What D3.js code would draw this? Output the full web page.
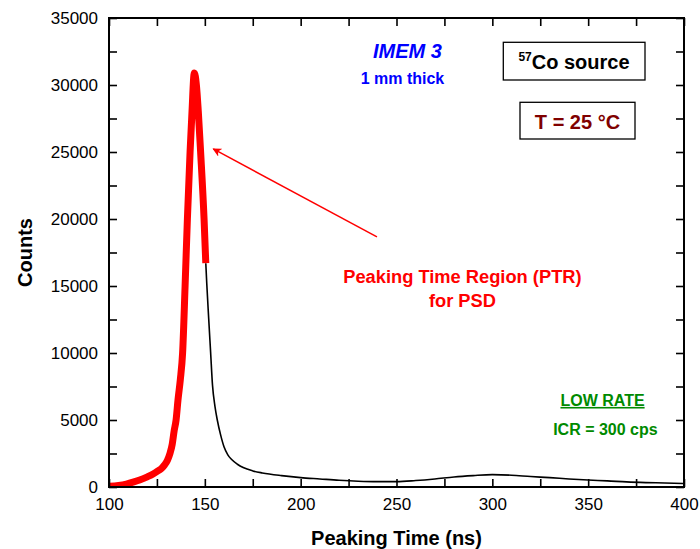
<!DOCTYPE html>
<html lang="en">
<head>
<meta charset="UTF-8">
<script src="https://d3js.org/d3.v7.min.js"></script>
<style>
  body { margin: 0; background: #fff; }
  text { font-family: Arial, "Liberation Sans", sans-serif; }
</style>
</head>
<body>
<div id="chart"></div>
<script>
// peaking time region (red, thick)
const ptrTime   = [100, 105, 109, 113, 116, 120, 123, 125.5, 127.5, 129, 130.5, 131.8, 133, 134, 135, 136, 137.2, 138.4, 139.7, 140.9, 142.3, 143.3, 144.5, 145.6, 146.6, 147.8, 149.6, 150.5];
const ptrCounts = [60, 120, 220, 380, 520, 760, 970, 1200, 1400, 1650, 2000, 2500, 3200, 4200, 5000, 6500, 8000, 10000, 15000, 20000, 25000, 28000, 30900, 30000, 28000, 25000, 20000, 16700];

// rest of the spectrum (black)
const tailTime   = [150.5, 151, 152, 153, 154, 155.3, 156.5, 158.3, 160, 162, 164, 167, 170, 175, 180, 190, 200, 210, 220, 230, 240, 250, 260, 270, 280, 290, 300, 310, 320, 330, 340, 350, 360, 370, 380, 390, 400];
const tailCounts = [16700, 15200, 12600, 10100, 7600, 6000, 5000, 3850, 3000, 2400, 2050, 1700, 1450, 1200, 1050, 850, 700, 600, 500, 430, 400, 400, 480, 600, 750, 850, 920, 880, 780, 700, 600, 520, 460, 380, 330, 300, 260];

const xTicks = d3.range(100, 401, 25);
const yTicks = d3.range(0, 35001, 2500);
const xLabels = [100, 150, 200, 250, 300, 350, 400];
const yLabels = [0, 5000, 10000, 15000, 20000, 25000, 30000, 35000];

const W = 700, H = 549;
const margin = {left: 109, top: 18, right: 16, bottom: 62};
const w = W - margin.left - margin.right;
const h = H - margin.top - margin.bottom;

const svg = d3.select("#chart").append("svg").attr("width", W).attr("height", H);
const g = svg.append("g").attr("transform", `translate(${margin.left},${margin.top})`);

const x = d3.scaleLinear().domain([100, 400]).range([0, w]);
const y = d3.scaleLinear().domain([0, 35000]).range([h, 0]);

g.append("clipPath").attr("id", "clip").append("rect")
  .attr("x", 0).attr("y", -5).attr("width", w).attr("height", h + 5);

const line = d3.line().x(d => x(d[0])).y(d => y(d[1])).curve(d3.curveMonotoneX);

g.append("path")
  .datum(tailTime.map((t, i) => [t, tailCounts[i]]))
  .attr("clip-path", "url(#clip)")
  .attr("fill", "none").attr("stroke", "#000").attr("stroke-width", 1.6)
  .attr("d", line);

g.append("path")
  .datum(ptrTime.map((t, i) => [t, ptrCounts[i]]))
  .attr("clip-path", "url(#clip)")
  .attr("fill", "none").attr("stroke", "#ff0000").attr("stroke-width", 7)
  .attr("stroke-linejoin", "round").attr("stroke-linecap", "butt")
  .attr("d", line);

// axes, ticks inside on all four sides
const tk = 8;
const fmt = d => "";
function styleAxis(sel) {
  sel.select(".domain").remove();
  sel.selectAll(".tick line").attr("stroke", "#000").attr("stroke-width", 1.6);
  sel.selectAll(".tick text").attr("font-size", 17).attr("fill", "#000");
}
g.append("g").attr("transform", `translate(0,${h})`)
  .call(d3.axisBottom(x).tickValues(xTicks).tickSizeInner(-tk).tickSizeOuter(0).tickPadding(11)
    .tickFormat(d => xLabels.includes(d) ? d : ""))
  .call(styleAxis);
g.append("g")
  .call(d3.axisTop(x).tickValues(xTicks).tickSizeInner(-tk).tickSizeOuter(0).tickFormat(fmt))
  .call(styleAxis);
g.append("g")
  .call(d3.axisLeft(y).tickValues(yTicks).tickSizeInner(-tk).tickSizeOuter(0).tickPadding(11)
    .tickFormat(d => yLabels.includes(d) ? d : ""))
  .call(styleAxis);
g.append("g").attr("transform", `translate(${w},0)`)
  .call(d3.axisRight(y).tickValues(yTicks).tickSizeInner(-tk).tickSizeOuter(0).tickFormat(fmt))
  .call(styleAxis);

g.append("rect").attr("width", w).attr("height", h)
  .attr("fill", "none").attr("stroke", "#000").attr("stroke-width", 2);

// axis titles
svg.append("text").attr("x", margin.left + w / 2).attr("y", 545)
  .attr("text-anchor", "middle").attr("font-size", 20).attr("font-weight", "bold")
  .text("Peaking Time (ns)");
svg.append("text").attr("transform", `translate(32,${margin.top + h / 2}) rotate(-90)`)
  .attr("text-anchor", "middle").attr("font-size", 20).attr("font-weight", "bold")
  .text("Counts");

// annotations
g.append("text").attr("x", x(255.7)).attr("y", y(32015))
  .attr("text-anchor", "middle").attr("font-size", 20).attr("font-weight", "bold")
  .attr("font-style", "italic").attr("fill", "#0000ff").text("IMEM 3");
g.append("text").attr("x", x(253.1)).attr("y", y(30075))
  .attr("text-anchor", "middle").attr("font-size", 16).attr("font-weight", "bold")
  .attr("fill", "#0000ff").text("1 mm thick");

g.append("rect").attr("x", 394.3).attr("y", 24.3).attr("width", 141.7).attr("height", 37.7)
  .attr("fill", "none").attr("stroke", "#000").attr("stroke-width", 1.3);
const co = g.append("text").attr("x", 465).attr("y", 51.3)
  .attr("text-anchor", "middle").attr("font-size", 20).attr("font-weight", "bold");
co.append("tspan").attr("font-size", 12).attr("dy", -8).text("57");
co.append("tspan").attr("dy", 8).text("Co source");

g.append("rect").attr("x", 411).attr("y", 84.3).attr("width", 115).attr("height", 36.7)
  .attr("fill", "none").attr("stroke", "#000").attr("stroke-width", 1.3);
g.append("text").attr("x", 468.5).attr("y", 111.3)
  .attr("text-anchor", "middle").attr("font-size", 20).attr("font-weight", "bold")
  .attr("fill", "#800000").text("T = 25 °C");

g.append("text").attr("x", x(284.4)).attr("y", y(15246))
  .attr("text-anchor", "middle").attr("font-size", 18.3).attr("font-weight", "bold")
  .attr("fill", "#ff0000").text("Peaking Time Region (PTR)");
g.append("text").attr("x", x(284.4)).attr("y", y(13455))
  .attr("text-anchor", "middle").attr("font-size", 18.3).attr("font-weight", "bold")
  .attr("fill", "#ff0000").text("for PSD");

// arrow pointing to the peak
svg.append("defs").append("marker").attr("id", "head")
  .attr("viewBox", "0 0 10 10").attr("refX", 9).attr("refY", 5)
  .attr("markerWidth", 9).attr("markerHeight", 9).attr("markerUnits", "userSpaceOnUse")
  .attr("orient", "auto")
  .append("path").attr("d", "M0,0 L10,5 L0,10 L3,5 Z").attr("fill", "#ff0000");
g.append("line")
  .attr("x1", x(239.8)).attr("y1", y(18660)).attr("x2", x(154.4)).attr("y2", y(25230))
  .attr("stroke", "#ff0000").attr("stroke-width", 1.5).attr("marker-end", "url(#head)");

const green = "#008a00";
g.append("text").attr("x", x(357.5)).attr("y", y(6050))
  .attr("text-anchor", "middle").attr("font-size", 16).attr("font-weight", "bold")
  .attr("fill", green).attr("text-decoration", "underline").text("LOW RATE");
g.append("text").attr("x", x(359)).attr("y", y(3880))
  .attr("text-anchor", "middle").attr("font-size", 16).attr("font-weight", "bold")
  .attr("fill", green).text("ICR = 300 cps");
</script>
</body>
</html>
